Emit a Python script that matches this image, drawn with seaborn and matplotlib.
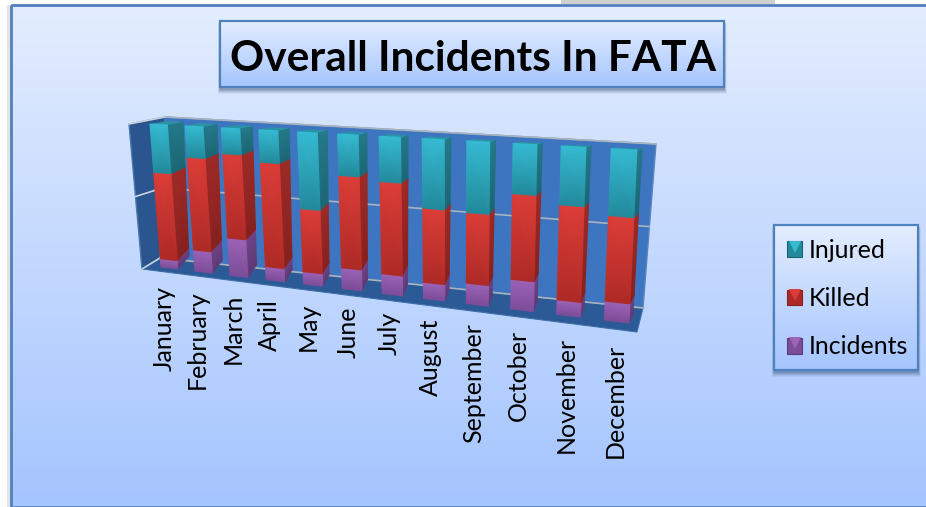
#!/usr/bin/env python3

# Overall incidents in FATA, 100% stacked bars on a tilted 3D-looking box

import numpy as npy
import pandas as pd
import matplotlib
matplotlib.use("Agg")
import matplotlib.pyplot as plt
import seaborn as sns
from matplotlib.patches import Patch, Polygon, Rectangle
from matplotlib.transforms import Transform

months = ["January", "February", "March", "April", "May", "June", "July",
          "August", "September", "October", "November", "December"]
incidents = [6, 15, 26, 9, 8.5, 14, 13, 10.5, 13, 18.5, 9, 11.5]
killed = [61, 64, 57, 70, 42, 60, 59, 47, 44, 52, 57, 50.5]
injured = [33, 21, 17, 21, 49.5, 26, 28, 42.5, 43, 29.5, 34, 38]
series = ["Incidents", "Killed", "Injured"]
legend_order = ["Injured", "Killed", "Incidents"]
grid_values = [0, 50, 100]

W, H = 926, 507
BAR_W = 0.5
FONT = "Lato"

# colour at top of face, colour at bottom of face
front_cols = {"Injured": ("#35BAD2", "#23899B"), "Killed": ("#DC3D38", "#AE2A26"),
              "Incidents": ("#9C63B6", "#7B4C98")}
side_cols = {"Injured": ("#24798A", "#1C6674"), "Killed": ("#9E2B27", "#86211E"),
             "Incidents": ("#6E4487", "#5E3975")}
cap_cols = {"Injured": "#2A93A6", "Killed": "#B5302C", "Incidents": "#84529F"}

label_x = [164, 197, 233, 269, 308, 348, 389, 430, 474, 518, 566, 615]
label_top = [286, 290, 294, 299, 303, 307, 312, 319, 323, 330, 337, 344]


class Homography(Transform):
    input_dims = 2
    output_dims = 2
    is_separable = False

    def __init__(self, src, dst):
        super().__init__()
        rows = []
        rhs = []
        for (x, y), (u, v) in zip(src, dst):
            rows.append([x, y, 1, 0, 0, 0, -u * x, -u * y])
            rows.append([0, 0, 0, x, y, 1, -v * x, -v * y])
            rhs += [u, v]
        self.m = npy.append(npy.linalg.solve(npy.array(rows, float), npy.array(rhs, float)), 1).reshape(3, 3)

    def transform_non_affine(self, values):
        values = npy.asarray(values, float)
        p = npy.column_stack([values, npy.ones(len(values))]) @ self.m.T
        return p[:, :2] / p[:, 2:]


def gradient_box(ax, x0, y0, x1, y1, top="#E3EDFE", bottom="#A5C5FF", z=1, edge="#4F81BD", lw=1.6):
    img = npy.linspace(0, 1, 200).reshape(-1, 1)
    cmap = matplotlib.colors.LinearSegmentedColormap.from_list("g", [top, bottom])
    ax.imshow(img, cmap=cmap, extent=(x0, x1, y1, y0), aspect="auto", zorder=z, interpolation="bilinear")
    ax.add_patch(Rectangle((x0, y0), x1 - x0, y1 - y0, fill=False, ec=edge, lw=lw, zorder=z + 0.1))


def shadow(ax, x0, y0, x1, y1, z=1):
    for i, a in zip([5, 4, 3, 2, 1], [0.06, 0.08, 0.10, 0.12, 0.14]):
        ax.add_patch(Rectangle((x0 - i / 2, y0 + 2), x1 - x0 + i, y1 - y0 + i, fc="#1F3A5F", ec="none",
                               alpha=a, zorder=z))


def shade(ax, quad, top, bottom, z):
    # quad: top-left, top-right, bottom-right, bottom-left in pixels
    xs = [[quad[0][0], quad[1][0]], [quad[3][0], quad[2][0]]]
    ys = [[quad[0][1], quad[1][1]], [quad[3][1], quad[2][1]]]
    cmap = matplotlib.colors.LinearSegmentedColormap.from_list("f", [top, bottom])
    return ax.pcolormesh(npy.array(xs), npy.array(ys), npy.array([[0, 0], [1, 1]], float), shading="gouraud",
                         cmap=cmap, vmin=0, vmax=1, zorder=z, clip_on=False)


def main():
    sns.set_theme(style="white")
    plt.rcParams["font.family"] = [FONT, "DejaVu Sans"]

    df = pd.DataFrame({
        "Month": months * 3,
        "Series": npy.repeat(series, len(months)),
        "Share": incidents + killed + injured,
    })

    fig = plt.figure(figsize=(W / 100, H / 100), dpi=100)
    base = fig.add_axes([0, 0, 1, 1])
    ax = fig.add_axes([0, 0, 1, 1], facecolor="none", zorder=2)
    top_ax = fig.add_axes([0, 0, 1, 1], facecolor="none", zorder=3)
    for a in (base, top_ax):
        a.set_xlim(0, W)
        a.set_ylim(H, 0)
        a.autoscale(False)
        a.axis("off")

    # slide background
    base.add_patch(Rectangle((561, 0), 214, 5, fc="#D2D0CE", ec="none", zorder=0.5))
    base.add_patch(Rectangle((7, 5), 4, H, fc="#E4E4E4", ec="none", zorder=0.5))
    gradient_box(base, 10.5, 5, W + 3, 506.5, lw=2)

    # title box
    shadow(base, 220, 21, 724, 87, z=2)
    gradient_box(base, 220, 21, 724, 87, z=3)
    base.text(472.5, 59, "Overall Incidents In FATA", ha="center", va="center", fontsize=30.5,
              fontweight="bold", color="black", zorder=5)

    # legend box
    shadow(base, 774, 225, 918, 370, z=2)
    gradient_box(base, 774, 225, 918, 370, z=3)

    left_x = -0.5
    right_x = 11.5
    back = Homography([(left_x, 100), (right_x, 100), (right_x, 0), (left_x, 0)],
                      [(165, 117), (656, 144), (643, 308), (160, 258)])
    front = Homography([(-BAR_W / 2, 100), (11 + BAR_W / 2, 100), (11 + BAR_W / 2, 0), (-BAR_W / 2, 0)],
                       [(150, 124), (637, 150), (629, 323), (161, 267)])
    rear = Homography([(BAR_W / 2, 100), (11 + BAR_W / 2, 100), (11 + BAR_W / 2, 0), (BAR_W / 2, 0)],
                      [(183, 122), (642, 149), (633, 314), (189, 256)])

    # walls and floor of the box
    wall_pts = back.transform(npy.array([(left_x, 100), (right_x, 100), (right_x, 0), (left_x, 0)], float))
    base.add_patch(Polygon(wall_pts, fc="#3E75C0", ec="#5C86BA", lw=1, zorder=6))
    side_pts = [(129, 124), tuple(wall_pts[0]), tuple(wall_pts[3]), (142, 269)]
    base.add_patch(Polygon(side_pts, fc="#2A558F", ec="#4A76AE", lw=1, zorder=6))
    floor_pts = [tuple(wall_pts[3]), tuple(wall_pts[2]), (637, 332), (142, 269)]
    base.add_patch(Polygon(floor_pts, fc="#2B5A96", ec="#3F6FA8", lw=0.8, zorder=6))
    for g in grid_values:
        base.plot([left_x, right_x], [g, g], color="#A9B4BE", lw=1.2, transform=back + base.transData,
                  clip_on=False, zorder=6.4)
        p = back.transform(npy.array([(left_x, g)], float))[0]
        t = g / 100
        outer = (129 + (142 - 129) * (1 - t), 124 + (269 - 124) * (1 - t))
        base.plot([outer[0], p[0]], [outer[1], p[1]], color="#C9D3DE", lw=1.2, zorder=6.5)

    # the stacked bars themselves, first hue level goes on top of the stack
    palette = {s: front_cols[s][0] for s in series}
    sns.histplot(data=df, x="Month", weights="Share", hue="Series", hue_order=series[::-1], palette=palette,
                 multiple="stack", shrink=BAR_W, alpha=1, linewidth=0, legend=False, ax=ax)

    col_to_series = {matplotlib.colors.to_hex(front_cols[s][0]): s for s in series}
    for bar in list(ax.patches):
        name = col_to_series[matplotlib.colors.to_hex(bar.get_facecolor())]
        x0, x1 = bar.get_x(), bar.get_x() + bar.get_width()
        v0, v1 = bar.get_y(), bar.get_y() + bar.get_height()
        bar.set_transform(front + base.transData)
        bar.set_clip_on(False)
        f = front.transform(npy.array([(x0, v1), (x1, v1), (x1, v0), (x0, v0)], float))
        r = rear.transform(npy.array([(x1 - BAR_W, v1), (x1, v1), (x1, v0)], float))
        shade(top_ax, [f[0], f[1], f[2], f[3]], *front_cols[name], 4)
        shade(top_ax, [f[1], r[1], r[2], f[2]], *side_cols[name], 2.5)
        if v1 > 99.9:
            top_ax.add_patch(Polygon([f[0], r[0], r[1], f[1]], fc=cap_cols[name], ec="none", zorder=2.6,
                                     clip_on=False))

    ax.set_xlim(-0.5, 11.5)
    ax.set_ylim(0, 100)
    ax.axis("off")

    for name, x, top in zip(months, label_x, label_top):
        base.text(x, top, name, rotation=90, ha="center", va="top", fontsize=18, color="black", zorder=7)

    # legend
    handles = [Patch(fc=front_cols[s][1], ec=side_cols[s][1], lw=0.8, label=s) for s in legend_order]
    leg = top_ax.legend(handles=handles, loc="upper left", bbox_to_anchor=(787, 239),
                        bbox_transform=top_ax.transData, frameon=False, fontsize=18, labelspacing=1.01,
                        handlelength=0.6, handleheight=0.6, handletextpad=0.28, borderpad=0,
                        borderaxespad=0, labelcolor="black")
    leg.set_zorder(8)
    for s, y in zip(legend_order, [247, 295, 343]):
        top_ax.plot([794.5], [y], marker="v", ms=8, color=front_cols[s][0], mew=0, clip_on=False, zorder=9)

    fig.savefig("out.png", dpi=100)


if __name__ == "__main__":
    main()
